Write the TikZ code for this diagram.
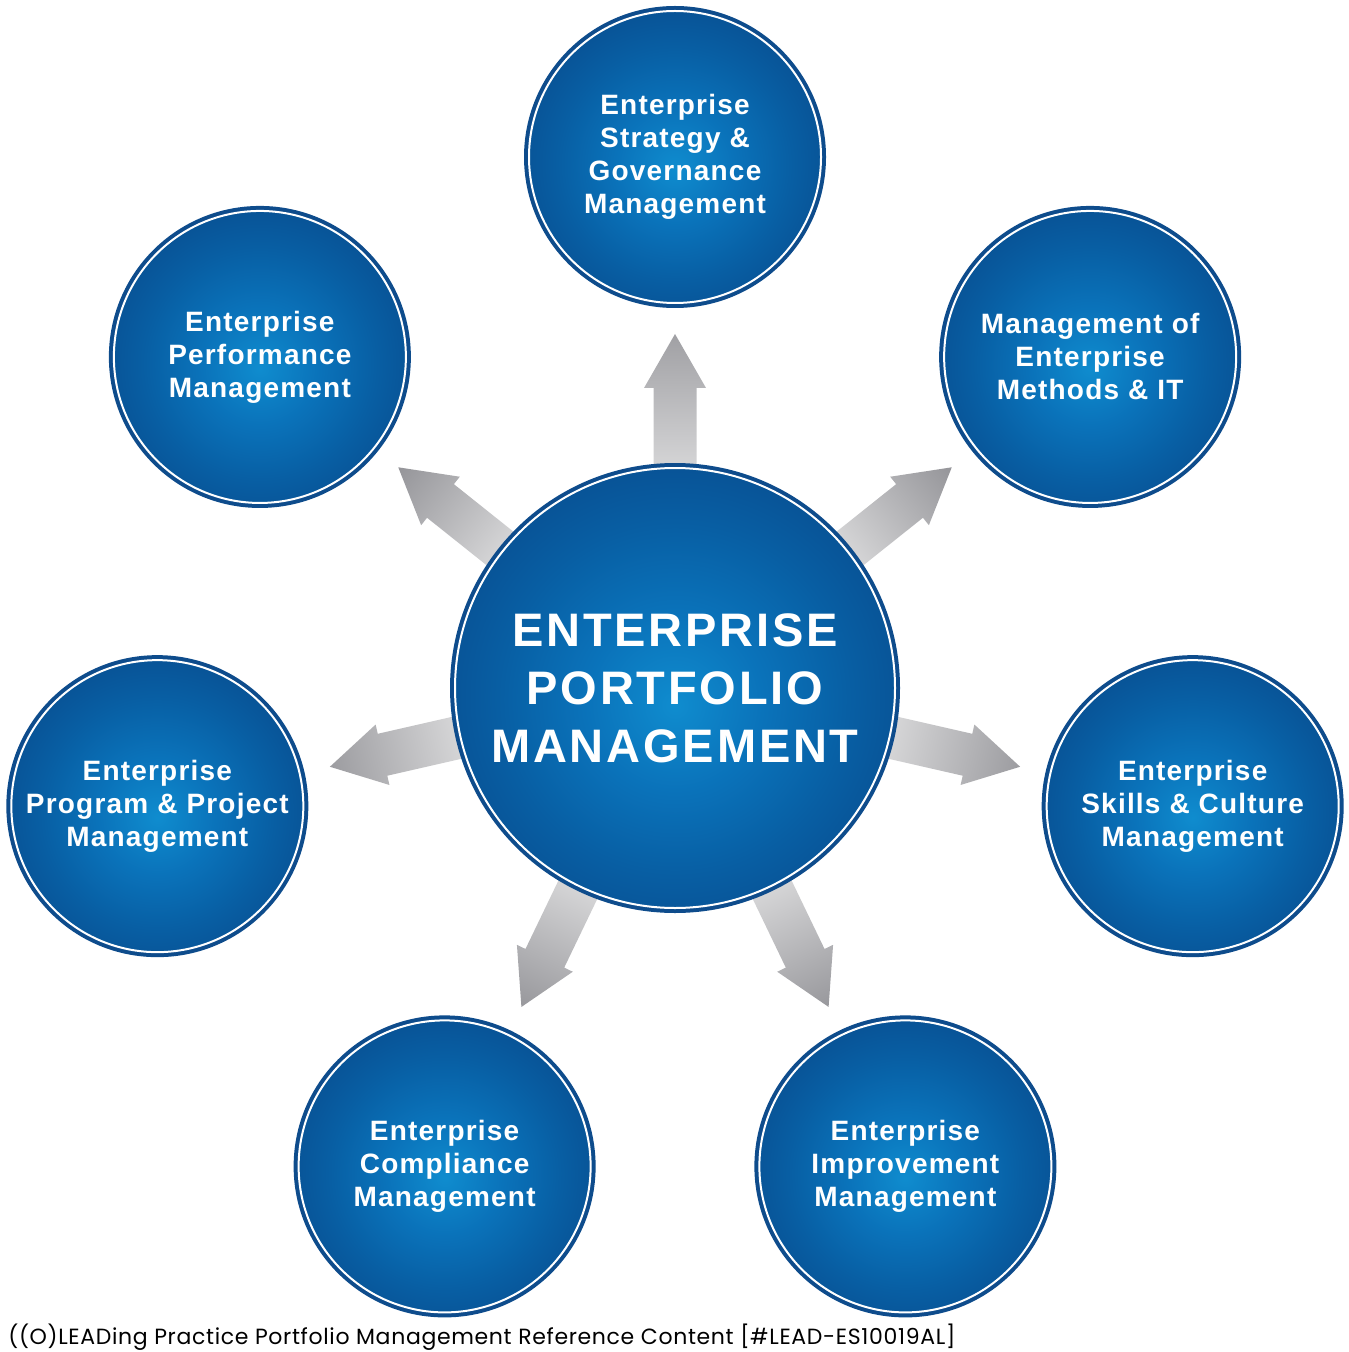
\documentclass[tikz,border=0pt]{standalone}
\usepackage{fontspec}
\usetikzlibrary{calc}
\newfontfamily\lblfont[LetterSpace=4.3]{Liberation Sans}
\newfontfamily\bigfont[LetterSpace=6]{Liberation Sans}
\newfontfamily\footfont[LetterSpace=3]{Poppins}
\definecolor{ringblue}{rgb}{0.055,0.30,0.55}
\definecolor{abase}{rgb}{0.95,0.95,0.95}
\definecolor{atip}{rgb}{0.52,0.52,0.54}
\pgfdeclareradialshading{ballshade}{\pgfpoint{0bp}{-2bp}}{rgb(0bp)=(0.06,0.55,0.81); rgb(10bp)=(0.04,0.45,0.73); rgb(20bp)=(0.03,0.37,0.64); rgb(30bp)=(0.03,0.30,0.56); rgb(42bp)=(0.03,0.26,0.50); rgb(52bp)=(0.03,0.25,0.48)}
\pgfdeclareverticalshading{arrowshade}{100bp}{color(0bp)=(abase); color(100bp)=(atip)}
\pgfdeclarelayer{bg}
\pgfsetlayers{bg,main}
\tikzset{
  ball/.style={circle, shading=ballshade, draw=white, line width=1pt, inner sep=0pt,
    text=white, align=center, preaction={draw=ringblue, line width=5pt}},
  smallball/.style={ball, minimum size=146pt, font=\lblfont\bfseries\fontsize{14pt}{16.5pt}\selectfont},
  bigball/.style={ball, minimum size=220pt, font=\bigfont\bfseries\fontsize{23.5pt}{29pt}\selectfont},
  blockarrow/.style={shading=arrowshade}
}
\begin{document}
\begin{tikzpicture}[x=0.5pt,y=-0.5pt]
\useasboundingbox (0,0) rectangle (1348,1352);
\node[bigball] (ctr) at (675,688) {ENTERPRISE\\PORTFOLIO\\MANAGEMENT};
\node[smallball] (o1) at ($(ctr)+(-90:531)$) {Enterprise\\Strategy \&\\Governance\\Management};
\node[smallball] (o2) at ($(ctr)+(-38.571:531)$) {Management of\\Enterprise\\Methods \& IT};
\node[smallball] (o3) at ($(ctr)+(12.857:531)$) {Enterprise\\Skills \& Culture\\Management};
\node[smallball] (o4) at ($(ctr)+(64.286:531)$) {Enterprise\\Improvement\\Management};
\node[smallball] (o5) at ($(ctr)+(115.714:531)$) {Enterprise\\Compliance\\Management};
\node[smallball] (o6) at ($(ctr)+(167.143:531)$) {Enterprise\\Program \& Project\\Management};
\node[smallball] (o7) at ($(ctr)+(218.571:531)$) {Enterprise\\Performance\\Management};
\begin{pgfonlayer}{bg}
\foreach \a [evaluate=\a as \sa using -(\a)-90] in {-90,-38.571,12.857,64.286,115.714,167.143,218.571}{
  \shade[blockarrow, shading angle=\sa]
    ($(ctr)+(\a:215)+({\a+90}:21.5)$) -- ($(ctr)+(\a:300)+({\a+90}:21.5)$)
    -- ($(ctr)+(\a:300)+({\a+90}:31)$) -- ($(ctr)+(\a:354)$)
    -- ($(ctr)+(\a:300)+({\a-90}:31)$) -- ($(ctr)+(\a:300)+({\a-90}:21.5)$)
    -- ($(ctr)+(\a:215)+({\a-90}:21.5)$) -- cycle;
}
\end{pgfonlayer}
\node[anchor=west, inner sep=0pt, font=\footfont\fontsize{11pt}{13pt}\selectfont] (foot) at (8,1337)
  {((O)LEADing Practice Portfolio Management Reference Content [\#LEAD-ES10019AL]};
\end{tikzpicture}
\end{document}
